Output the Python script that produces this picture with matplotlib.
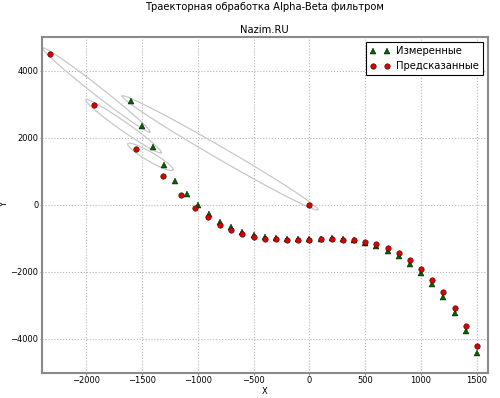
import numpy as np
import matplotlib
matplotlib.use('Agg')
import matplotlib.pyplot as plt

plt.rcParams['font.family'] = ['DejaVu Sans']

# Measured points (green triangles)
meas_x = [-1600, -1500, -1400, -1300, -1200, -1100, -1000, -900, -800, -700,
          -600, -500, -400, -300, -200, -100, 0, 100, 200, 300,
          400, 500, 600, 700, 800, 900, 1000, 1100, 1200, 1300, 1400, 1500]
meas_y = [3090, 2356, 1723, 1188, 713, 320, -10, -280, -510, -673,
          -818, -900, -955, -990, -1015, -1030, -1030, -1015, -1005, -1020,
          -1050, -1138, -1238, -1366, -1524, -1752, -2020, -2356, -2742, -3217, -3763, -4405]

# Predicted points (red circles)
pred_x = [0, -2320, -1930, -1550, -1310, -1150, -1023, -911, -800, -700,
          -600, -500, -400, -300, -200, -100, 0, 100, 200, 300,
          400, 500, 600, 700, 800, 900, 1000, 1100, 1200, 1300, 1400, 1500]
pred_y = [0, 4490, 2960, 1670, 852, 297, -89, -377, -600, -752,
          -882, -960, -1010, -1030, -1050, -1040, -1040, -1020, -1020, -1040,
          -1060, -1100, -1168, -1287, -1435, -1654, -1910, -2237, -2614, -3069, -3614, -4217]

# Which prediction/measurement pairs get an uncertainty ellipse
ellipse_idx = [0, 1, 2, 3]

title = "Траекторная обработка Alpha-Beta фильтром"
subtitle = "Nazim.RU"
labels = ["Измеренные", "Предсказанные"]
x_ticks = [-2000, -1500, -1000, -500, 0, 500, 1000, 1500]
y_ticks = [-4000, -2000, 0, 2000, 4000]

fig = plt.figure(figsize=(5.0, 3.98), dpi=100)
ax = fig.add_axes([0.083, 0.064, 0.893, 0.843])
ax.set_xlim(-2400, 1600)
ax.set_ylim(-5000, 5000)
ax.set_xticks(x_ticks)
ax.set_yticks(y_ticks)

ax.plot(meas_x, meas_y, '^', color=(0, 0.4, 0), mec='k', mew=0.3, ms=4,
        label=labels[0], zorder=3)
ax.plot(pred_x, pred_y, 'o', color=(0.85, 0, 0), mec='k', mew=0.3, ms=4,
        label=labels[1], zorder=4)

# ellipses enclosing prediction and measurement, built in display space
fig.canvas.draw()
trans = ax.transData
inv = trans.inverted()
t = np.linspace(0, 2 * np.pi, 200)
for i in ellipse_idx:
    p1 = trans.transform((pred_x[i], pred_y[i]))
    p2 = trans.transform((meas_x[i], meas_y[i]))
    c = (p1 + p2) / 2
    d = p2 - p1
    L = np.hypot(*d)
    u = d / L
    v = np.array([-u[1], u[0]])
    a = L / 2 + 10
    b = 6 if L > 150 else 4.5
    pts = c + np.outer(a * np.cos(t), u) + np.outer(b * np.sin(t), v)
    dp = inv.transform(pts)
    ax.plot(dp[:, 0], dp[:, 1], '-', color='#c8c8c8', lw=0.9, zorder=2)

ax.grid(True, color='#b5b5b5', linestyle=':', linewidth=0.8)
for s in ax.spines.values():
    s.set_color('#8a8a8a')
    s.set_linewidth(1.5)
ax.tick_params(direction='out', length=1.5, width=0.8, color='#8a8a8a',
               labelsize=6, pad=0.8)

ax.set_title(subtitle, fontsize=7.2, pad=3)
fig.suptitle(title, x=0.53, y=0.994, fontsize=7.2)
ax.set_xlabel("X", fontsize=6, va='top')
ax.set_ylabel("Y", fontsize=6)
ax.xaxis.set_label_coords(0.5, -0.042)
ax.yaxis.set_label_coords(-0.072, 0.5)

leg = ax.legend(loc='upper right', numpoints=2, fontsize=7.2, fancybox=False,
                framealpha=1, borderaxespad=0.5, handlelength=2.0,
                handletextpad=0.6, labelspacing=0.5, borderpad=0.4)
leg.get_frame().set_edgecolor('k')
leg.get_frame().set_linewidth(0.8)

fig.savefig('out.png', dpi=100)
